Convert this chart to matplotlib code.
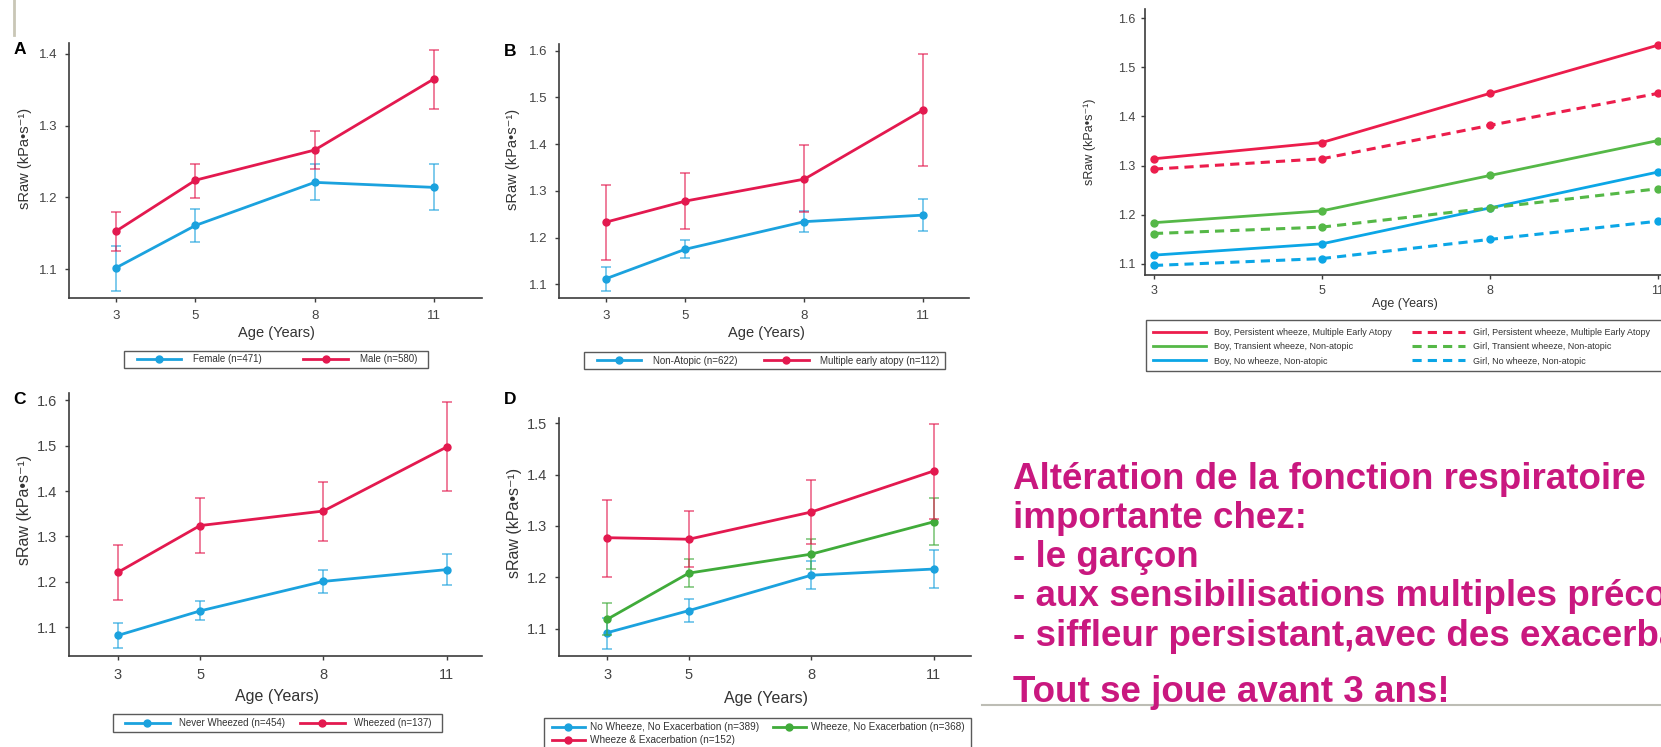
import matplotlib.pyplot as plt
import numpy as np
from matplotlib.patches import Rectangle
from matplotlib.lines import Line2D

plt.rcParams['font.family'] = ['Liberation Sans', 'DejaVu Sans']

W, H = 1661, 747

ages = [3, 5, 8, 11]
age_labels = ['3', '5', '8', '11']

# A: sex
female = [1.102, 1.161, 1.221, 1.214]
female_lo = [1.070, 1.138, 1.196, 1.182]
female_hi = [1.132, 1.184, 1.247, 1.247]
male = [1.153, 1.224, 1.266, 1.365]
male_lo = [1.126, 1.199, 1.239, 1.323]
male_hi = [1.180, 1.246, 1.293, 1.405]

# B: atopy
nonatopic = [1.112, 1.175, 1.234, 1.248]
nonatopic_lo = [1.086, 1.156, 1.211, 1.213]
nonatopic_hi = [1.136, 1.195, 1.256, 1.282]
atopy = [1.233, 1.278, 1.325, 1.473]
atopy_lo = [1.152, 1.218, 1.255, 1.354]
atopy_hi = [1.313, 1.338, 1.398, 1.593]

# C: wheeze
never = [1.082, 1.136, 1.201, 1.227]
never_lo = [1.055, 1.115, 1.175, 1.192]
never_hi = [1.110, 1.157, 1.227, 1.262]
wheezed = [1.221, 1.324, 1.356, 1.497]
wheezed_lo = [1.160, 1.264, 1.290, 1.400]
wheezed_hi = [1.282, 1.384, 1.420, 1.596]

# D: wheeze / exacerbation
nowheeze = [1.092, 1.135, 1.204, 1.216]
nowheeze_lo = [1.061, 1.112, 1.177, 1.179]
nowheeze_hi = [1.120, 1.158, 1.231, 1.253]
wheeze_noex = [1.118, 1.208, 1.245, 1.308]
wheeze_noex_lo = [1.088, 1.181, 1.217, 1.263]
wheeze_noex_hi = [1.149, 1.235, 1.274, 1.355]
wheeze_ex = [1.277, 1.274, 1.327, 1.407]
wheeze_ex_lo = [1.201, 1.219, 1.265, 1.313]
wheeze_ex_hi = [1.351, 1.329, 1.390, 1.499]

# right panel: boys / girls
boy_pers = [1.314, 1.347, 1.447, 1.545]
girl_pers = [1.293, 1.314, 1.382, 1.447]
boy_trans = [1.184, 1.208, 1.280, 1.351]
girl_trans = [1.162, 1.175, 1.214, 1.253]
boy_no = [1.118, 1.141, 1.214, 1.287]
girl_no = [1.097, 1.111, 1.150, 1.187]

msg = ['Altération de la fonction respiratoire',
       'importante chez:',
       '- le garçon',
       '- aux sensibilisations multiples précoces',
       '- siffleur persistant,avec des exacerbations']
msg_end = 'Tout se joue avant 3 ans!'

RED = '#e3194f'
BLUE = '#1ba2de'
GREEN = '#40ab3a'
RED2 = '#ec1d4c'
GREEN2 = '#55b847'
BLUE2 = '#0ba6e6'
PINK = '#c9187f'
AX = '#3c3c3c'
YLAB = 'sRaw (kPa•s⁻¹)'


def fx(x):
    return x / W


def fy(y):
    return 1 - y / H


fig = plt.figure(figsize=(W / 100, H / 100), dpi=100)


def make_axes(x0, y0, x1, y1, xlim, ylim, yticks, size=9.5):
    ax = fig.add_axes([fx(x0), fy(y1), (x1 - x0) / W, (y1 - y0) / H])
    ax.set_xlim(xlim)
    ax.set_ylim(ylim)
    ax.set_yticks(yticks)
    ax.set_yticklabels(['%.1f' % t for t in yticks])
    ax.spines['top'].set_visible(False)
    ax.spines['right'].set_visible(False)
    for s in ['left', 'bottom']:
        ax.spines[s].set_color(AX)
        ax.spines[s].set_linewidth(1.2)
    ax.tick_params(colors=AX, labelcolor='#444444', labelsize=size, length=3, width=1, pad=5.5)
    ax.patch.set_alpha(0)
    return ax


def series(ax, y, lo, hi, color, label):
    y = np.array(y)
    err = [y - np.array(lo), np.array(hi) - y]
    ax.errorbar(ages, y, yerr=err, fmt='none', ecolor=color, elinewidth=1.1,
                capsize=3.3, capthick=1.1, alpha=0.72)
    line, = ax.plot(ages, y, color=color, lw=2, marker='o', ms=5, label=label)
    return line


def labels(letter, lxy, ylxy, xlxy, size=10.5):
    if letter:
        fig.text(fx(lxy[0]), fy(lxy[1]), letter, fontsize=12.5, fontweight='bold',
                 ha='center', va='center')
    fig.text(fx(ylxy[0]), fy(ylxy[1]), YLAB, rotation=90, fontsize=size,
             color='#333333', ha='center', va='center')
    fig.text(fx(xlxy[0]), fy(xlxy[1]), 'Age (Years)', fontsize=size,
             color='#333333', ha='center', va='center')


def legend(ax, handles, x, y, loc, **kw):
    leg = ax.legend(handles=handles, loc=loc, bbox_to_anchor=(fx(x), fy(y)),
                    bbox_transform=fig.transFigure, frameon=False, borderpad=0,
                    borderaxespad=0, ncol=2, **kw)
    for t in leg.get_texts():
        t.set_color('#333333')
    return leg


def frame(x0, y0, x1, y1):
    fig.add_artist(Rectangle((fx(x0), fy(y1)), (x1 - x0) / W, (y1 - y0) / H,
                             transform=fig.transFigure, fill=False,
                             ec='#5a5a5a', lw=1.0))


# ---- A
ax = make_axes(69, 43, 482, 298, (1.818, 12.21), (1.06, 1.415), [1.1, 1.2, 1.3, 1.4])
ax.set_xticks(ages)
h1 = series(ax, female, female_lo, female_hi, BLUE, 'Female (n=471)')
h2 = series(ax, male, male_lo, male_hi, RED, 'Male (n=580)')
labels('A', (20, 50), (25, 158), (276, 333))
legend(ax, [h1, h2], 136.7, 359.5, 'center left', fontsize=7, handlelength=4.6,
       handletextpad=1.2, columnspacing=4.28)
frame(124, 351, 428, 368)

# ---- B
ax = make_axes(559, 44, 969, 298, (1.815, 12.15), (1.0707, 1.614),
               [1.1, 1.2, 1.3, 1.4, 1.5, 1.6])
ax.set_xticks(ages)
h1 = series(ax, nonatopic, nonatopic_lo, nonatopic_hi, BLUE, 'Non-Atopic (n=622)')
h2 = series(ax, atopy, atopy_lo, atopy_hi, RED, 'Multiple early atopy (n=112)')
labels('B', (510.5, 51), (513, 159), (766, 333))
legend(ax, [h1, h2], 596.7, 360.5, 'center left', fontsize=7, handlelength=4.6,
       handletextpad=1.2, columnspacing=2.7)
frame(584, 352, 945, 369)

# ---- C
ax = make_axes(69, 393, 482, 656, (1.811, 11.86), (1.0367, 1.616),
               [1.1, 1.2, 1.3, 1.4, 1.5, 1.6], size=10.5)
ax.set_xticks(ages)
h1 = series(ax, never, never_lo, never_hi, BLUE, 'Never Wheezed (n=454)')
h2 = series(ax, wheezed, wheezed_lo, wheezed_hi, RED, 'Wheezed (n=137)')
labels('C', (19, 400), (25, 510), (277, 696), size=11.5)
legend(ax, [h1, h2], 125, 723, 'center left', fontsize=7, handlelength=4.6,
       handletextpad=1.0, columnspacing=1.5)
frame(112.7, 714, 442, 731.7)

# ---- D
ax = make_axes(559, 418, 971, 656, (1.824, 11.91), (1.0467, 1.51),
               [1.1, 1.2, 1.3, 1.4, 1.5], size=10.5)
ax.set_xticks(ages)
h1 = series(ax, nowheeze, nowheeze_lo, nowheeze_hi, BLUE, 'No Wheeze, No Exacerbation (n=389)')
h2 = series(ax, wheeze_noex, wheeze_noex_lo, wheeze_noex_hi, GREEN, 'Wheeze, No Exacerbation (n=368)')
h3 = series(ax, wheeze_ex, wheeze_ex_lo, wheeze_ex_hi, RED, 'Wheeze & Exacerbation (n=152)')
labels('D', (510, 399), (514, 523), (766, 699), size=11.5)
legend(ax, [h1, h3, h2], 551.7, 722, 'upper left', fontsize=7.2, handlelength=3.3,
       handletextpad=0.5, columnspacing=1.4, labelspacing=0.3)
frame(544, 718, 971, 780)

# ---- right panel (categorical ages)
xs = np.arange(len(ages))
ax = make_axes(1144.7, 9.3, 1667, 275, (-0.055, 3.054), (1.0776, 1.618),
               [1.1, 1.2, 1.3, 1.4, 1.5, 1.6], size=9)
ax.set_xticks(xs)
ax.set_xticklabels(age_labels)
ax.tick_params(axis='x', pad=4)
ax.tick_params(axis='y', pad=4)
dash = (0, (3, 2))
e1, = ax.plot(xs, boy_pers, color=RED2, lw=2, marker='o', ms=5,
              label='Boy, Persistent wheeze, Multiple Early Atopy')
e2, = ax.plot(xs, boy_trans, color=GREEN2, lw=2, marker='o', ms=5,
              label='Boy, Transient wheeze, Non-atopic')
e3, = ax.plot(xs, boy_no, color=BLUE2, lw=2, marker='o', ms=5,
              label='Boy, No wheeze, Non-atopic')
e4, = ax.plot(xs, girl_pers, color=RED2, lw=2.2, ls=dash, marker='o', ms=5,
              label='Girl, Persistent wheeze, Multiple Early Atopy')
e5, = ax.plot(xs, girl_trans, color=GREEN2, lw=2.2, ls=dash, marker='o', ms=5,
              label='Girl, Transient wheeze, Non-atopic')
e6, = ax.plot(xs, girl_no, color=BLUE2, lw=2.2, ls=dash, marker='o', ms=5,
              label='Girl, No wheeze, Non-atopic')
labels(None, None, (1090, 141.7), (1405, 304), size=9)
leg = legend(ax, [e1, e2, e3, e4, e5, e6], 1153, 346.7, 'center left', fontsize=6.5,
             handlelength=5.87, handletextpad=0.9, columnspacing=2.2, labelspacing=0.6)
for hl in leg.legend_handles:
    hl.set_marker('')
frame(1145.8, 320, 1720, 370.7)

# ---- slide text
baselines = [488.7, 527.9, 567.1, 606.3, 645.5]
for s, yb in zip(msg, baselines):
    fig.text(fx(1012.7), fy(yb), s, fontsize=26.5, fontweight='bold', color=PINK,
             ha='left', va='baseline')
fig.text(fx(1012.7), fy(701.7), msg_end, fontsize=26.5, fontweight='bold', color=PINK,
         ha='left', va='baseline')

fig.add_artist(Line2D([fx(982), 1], [fy(704.5), fy(704.5)], color='#bdbdb5', lw=1.5))
fig.add_artist(Line2D([fx(14.2), fx(14.2)], [1, fy(35)], color='#c9c6b6', lw=2))

fig.savefig('out.png', dpi=100)
